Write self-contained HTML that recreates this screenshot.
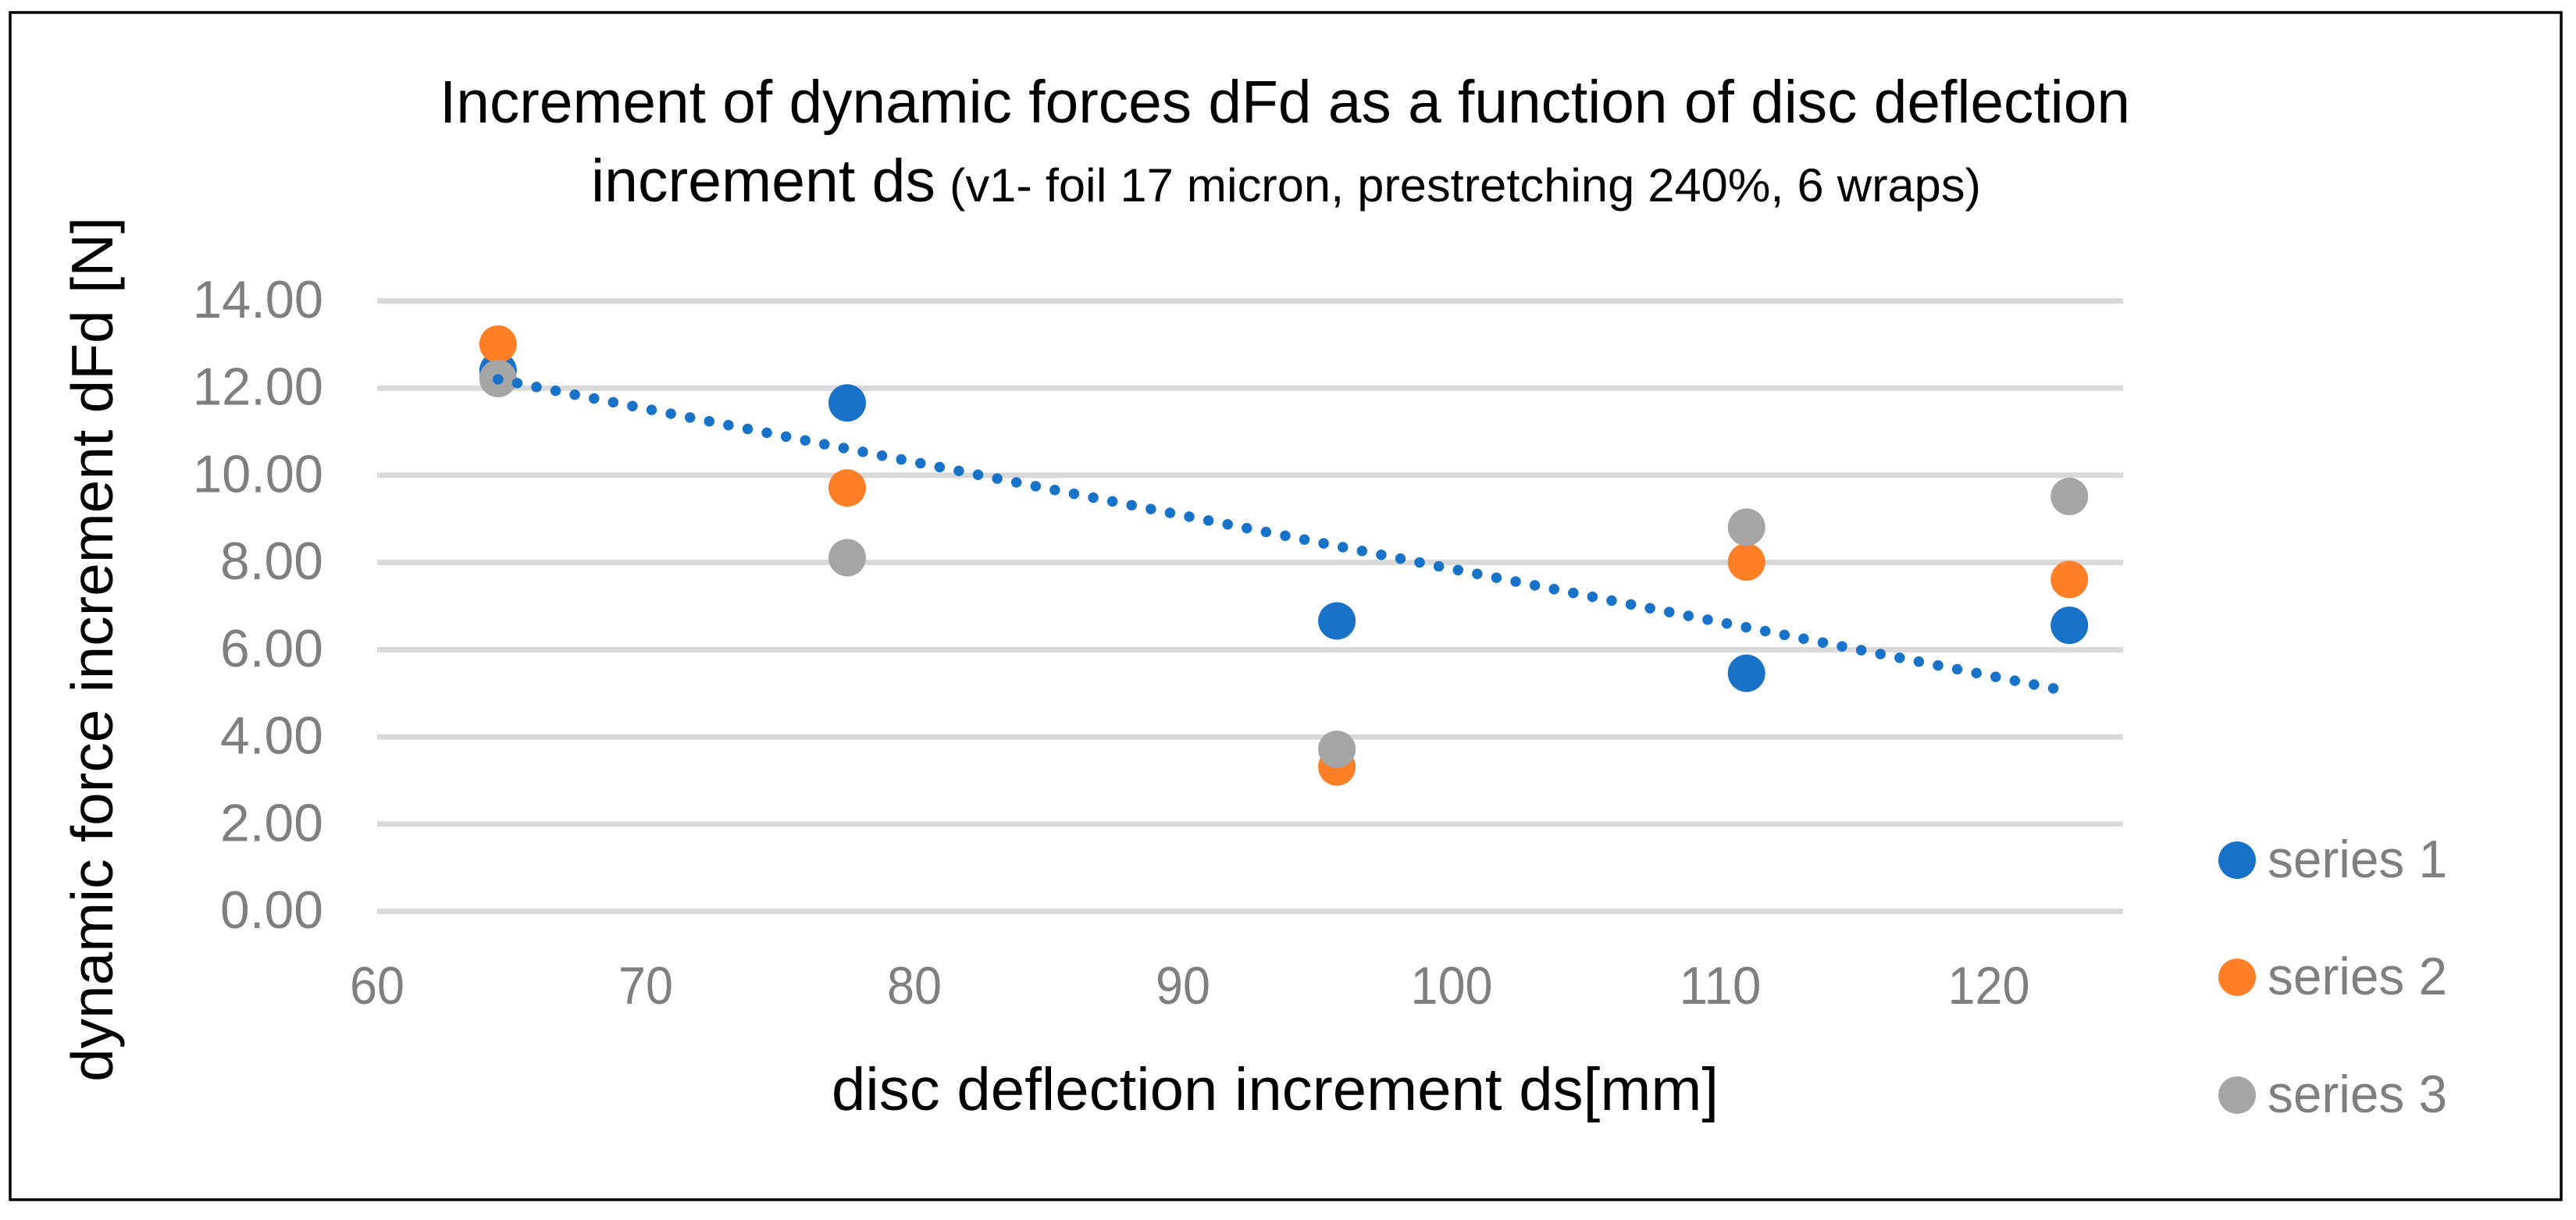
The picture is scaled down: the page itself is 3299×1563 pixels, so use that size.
<!DOCTYPE html>
<html lang="en">
<head>
<meta charset="utf-8">
<title>Increment of dynamic forces chart</title>
<style>
html,body{margin:0;padding:0;background:#fff;width:3299px;height:1563px;overflow:hidden}
svg{display:block}
text{font-family:"Liberation Sans",sans-serif}
</style>
</head>
<body>
<svg id="chart" xmlns="http://www.w3.org/2000/svg" width="3299" height="1563" viewBox="0 0 3299 1563">
  <rect x="0" y="0" width="3299" height="1563" fill="#ffffff"/>
  <rect x="13" y="16" width="3267" height="1521" fill="none" stroke="#000000" stroke-width="3.5"/>
  <g id="grid"></g>
  <g id="yticks"></g>
  <g id="xticks"></g>
  <g id="marks"></g>
  <g id="trend"></g>

  <text x="563" y="157" font-size="77" fill="#000" textLength="2165" lengthAdjust="spacingAndGlyphs">Increment of dynamic forces dFd as a function of disc deflection</text>
  <text x="757" y="258" font-size="77" fill="#000" textLength="441" lengthAdjust="spacingAndGlyphs">increment ds</text>
  <text x="1216" y="258" font-size="60" fill="#000" textLength="1321" lengthAdjust="spacingAndGlyphs">(v1- foil 17 micron, prestretching 240%, 6 wraps)</text>

  <text transform="translate(144 1386) rotate(-90)" x="0" y="0" font-size="75" fill="#000" textLength="1108" lengthAdjust="spacingAndGlyphs">dynamic force increment dFd [N]</text>
  <text x="1065" y="1422" font-size="77" fill="#000" textLength="1136" lengthAdjust="spacingAndGlyphs">disc deflection increment ds[mm]</text>

  <g>
    <circle cx="2865" cy="1102" r="24" fill="#1772c8"/>
    <text x="2904" y="1124" font-size="68" fill="#7f7f7f" textLength="230" lengthAdjust="spacingAndGlyphs">series 1</text>
    <circle cx="2865" cy="1252" r="24" fill="#ff7f27"/>
    <text x="2904" y="1274" font-size="68" fill="#7f7f7f" textLength="230" lengthAdjust="spacingAndGlyphs">series 2</text>
    <circle cx="2865" cy="1403" r="24" fill="#a5a5a5"/>
    <text x="2904" y="1425" font-size="68" fill="#7f7f7f" textLength="230" lengthAdjust="spacingAndGlyphs">series 3</text>
  </g>
</svg>
<script>
var categories = [64.5, 77.5, 95.73, 110.98, 123.0];
var series1 = [12.4, 11.66, 6.66, 5.46, 6.56];
var series2 = [13.01, 9.71, 3.31, 8.01, 7.61];
var series3 = [12.22, 8.11, 3.715, 8.81, 9.515];
var yTickLabels = ["0.00", "2.00", "4.00", "6.00", "8.00", "10.00", "12.00", "14.00"];
var xTickLabels = ["60", "70", "80", "90", "100", "110", "120"];

var NS = "http://www.w3.org/2000/svg";
var xDomain = [60, 125], yDomain = [0, 14];
var xRange = [483, 2719], yRange = [1167.5, 385.5];

function xScale(v) {
  return xRange[0] + (v - xDomain[0]) / (xDomain[1] - xDomain[0]) * (xRange[1] - xRange[0]);
}
function yScale(v) {
  return yRange[0] + (v - yDomain[0]) / (yDomain[1] - yDomain[0]) * (yRange[1] - yRange[0]);
}
function make(tag, attrs, parent) {
  var el = document.createElementNS(NS, tag);
  for (var k in attrs) { el.setAttribute(k, attrs[k]); }
  parent.appendChild(el);
  return el;
}
function labelWidth(s) {
  var w = 0;
  for (var i = 0; i < s.length; i++) { w += s[i] === "." ? 27 : 35; }
  return w;
}

var gridG = document.getElementById("grid");
var yG = document.getElementById("yticks");
var xG = document.getElementById("xticks");
var marksG = document.getElementById("marks");
var trendG = document.getElementById("trend");

yTickLabels.forEach(function (label) {
  var v = parseFloat(label);
  var line = make("line", {x1: xRange[0], x2: xRange[1], y1: yScale(v), y2: yScale(v), stroke: "#d9d9d9", "stroke-width": 7}, gridG);
  
  
  var w = labelWidth(label);
  var t = make("text", {x: 414 - w, y: yScale(v) + 21.5, "font-size": 68, fill: "#7f7f7f", textLength: w, lengthAdjust: "spacingAndGlyphs"}, yG);
  t.textContent = label;
  
  
});

xTickLabels.forEach(function (label) {
  var v = parseFloat(label);
  var w = labelWidth(label);
  var t = make("text", {x: xScale(v) - w / 2, y: 1286, "font-size": 68, fill: "#7f7f7f", textLength: w, lengthAdjust: "spacingAndGlyphs"}, xG);
  t.textContent = label;
  
  
});

function drawSeries(values, color, name) {
  values.forEach(function (val, i) {
    var c = make("circle", {cx: xScale(categories[i]), cy: yScale(val), r: 24, fill: color}, marksG);
    
    
  });
}
drawSeries(series1, "#1772c8", "point-series-1");
drawSeries(series2, "#ff7f27", "point-series-2");
drawSeries(series3, "#a5a5a5", "point-series-3");

// Linear trendline fitted to series 1
var n = categories.length, sx = 0, sy = 0, sxx = 0, sxy = 0;
for (var i = 0; i < n; i++) {
  sx += categories[i]; sy += series1[i];
  sxx += categories[i] * categories[i]; sxy += categories[i] * series1[i];
}
var slope = (n * sxy - sx * sy) / (n * sxx - sx * sx);
var intercept = (sy - slope * sx) / n;
var firstX = categories[0], lastX = categories[n - 1];
var trendLine = make("line", {
  x1: xScale(firstX), y1: yScale(slope * firstX + intercept),
  x2: xScale(lastX), y2: yScale(slope * lastX + intercept),
  stroke: "#1772c8", "stroke-width": 13.5, "stroke-linecap": "round", "stroke-dasharray": "0.01 25.06"
}, trendG);


</script>
</body>
</html>
